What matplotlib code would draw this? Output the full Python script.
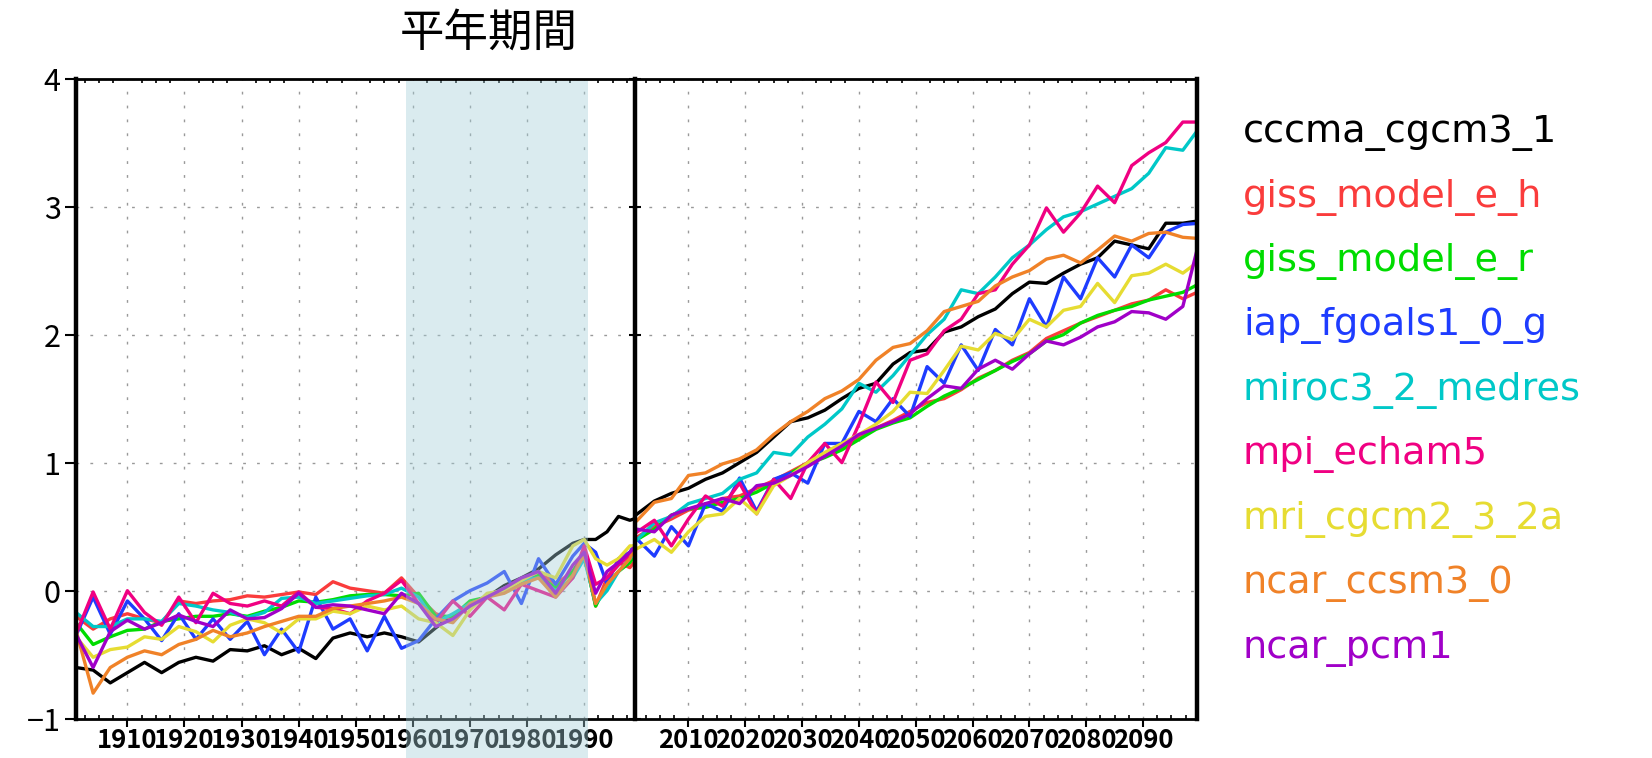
import matplotlib
matplotlib.use("Agg")
import matplotlib.pyplot as plt
import matplotlib.transforms as mtransforms
from matplotlib import font_manager
from matplotlib.patches import Rectangle
from matplotlib.ticker import MultipleLocator

# --- data ---
models = ["cccma_cgcm3_1", "giss_model_e_h", "giss_model_e_r", "iap_fgoals1_0_g",
          "miroc3_2_medres", "mpi_echam5", "mri_cgcm2_3_2a", "ncar_ccsm3_0", "ncar_pcm1"]
colors = ["#000000", "#fa3c3c", "#00dc00", "#1e3cff", "#00c8c8",
          "#f00082", "#e6dc32", "#f08228", "#a000c8"]

years_hist = [1901, 1904, 1907, 1910, 1913, 1916, 1919, 1922, 1925, 1928, 1931, 1934,
              1937, 1940, 1943, 1946, 1949, 1952, 1955, 1958, 1961, 1964, 1967, 1970,
              1973, 1976, 1979, 1982, 1985, 1988, 1990, 1992, 1994, 1996, 1998, 2000]
years_proj = list(range(2001, 2101, 3))

cccma_hist = [-0.60, -0.62, -0.72, -0.64, -0.56, -0.64, -0.56, -0.52, -0.55, -0.46,
              -0.47, -0.43, -0.50, -0.45, -0.53, -0.37, -0.33, -0.36, -0.33, -0.36,
              -0.40, -0.29, -0.19, -0.12, -0.05, 0.04, 0.10, 0.17, 0.28, 0.37,
              0.40, 0.40, 0.46, 0.58, 0.55, 0.58]
giss_h_hist = [-0.20, -0.30, -0.22, -0.18, -0.22, -0.25, -0.08, -0.10, -0.08, -0.07,
               -0.04, -0.05, -0.03, -0.01, -0.03, 0.07, 0.02, 0.00, -0.02, 0.10,
               -0.05, -0.18, -0.22, -0.12, -0.05, 0.02, 0.06, 0.15, 0.05, 0.15,
               0.30, -0.12, 0.10, 0.22, 0.18, 0.30]
giss_r_hist = [-0.25, -0.42, -0.36, -0.31, -0.30, -0.24, -0.22, -0.20, -0.20, -0.18,
               -0.20, -0.16, -0.13, -0.08, -0.09, -0.07, -0.04, -0.03, -0.03, -0.04,
               -0.02, -0.20, -0.20, -0.08, -0.05, 0.00, 0.05, 0.12, 0.02, 0.15,
               0.28, -0.12, 0.05, 0.15, 0.22, 0.35]
iap_hist = [-0.35, -0.05, -0.34, -0.08, -0.22, -0.39, -0.18, -0.38, -0.22, -0.38,
            -0.24, -0.50, -0.30, -0.48, -0.05, -0.30, -0.22, -0.47, -0.20, -0.45,
            -0.39, -0.22, -0.08, 0.00, 0.06, 0.15, -0.10, 0.25, 0.05, 0.27,
            0.37, 0.30, 0.05, 0.25, 0.30, 0.45]
miroc_hist = [-0.17, -0.28, -0.28, -0.22, -0.22, -0.24, -0.10, -0.12, -0.15, -0.17,
              -0.21, -0.17, -0.06, -0.05, -0.10, -0.08, -0.06, -0.04, -0.03, 0.02,
              -0.05, -0.25, -0.18, -0.10, -0.05, 0.02, 0.08, 0.10, 0.00, 0.10,
              0.25, -0.10, 0.00, 0.15, 0.25, 0.35]
mpi_hist = [-0.34, -0.01, -0.30, 0.00, -0.17, -0.27, -0.05, -0.25, -0.02, -0.10,
            -0.12, -0.08, -0.12, -0.01, -0.13, -0.14, -0.18, -0.08, -0.02, 0.08,
            -0.10, -0.25, -0.08, -0.20, -0.05, -0.15, 0.05, 0.00, -0.05, 0.10,
            0.35, 0.05, 0.10, 0.20, 0.28, 0.35]
mri_hist = [-0.36, -0.52, -0.46, -0.44, -0.36, -0.38, -0.28, -0.32, -0.40, -0.27,
            -0.22, -0.25, -0.33, -0.22, -0.22, -0.16, -0.18, -0.12, -0.15, -0.12,
            -0.22, -0.25, -0.35, -0.15, -0.02, 0.00, 0.08, 0.15, 0.10, 0.35,
            0.40, 0.25, 0.20, 0.25, 0.35, 0.35]
ccsm3_hist = [-0.31, -0.80, -0.60, -0.52, -0.47, -0.50, -0.42, -0.38, -0.31, -0.36,
              -0.33, -0.28, -0.24, -0.20, -0.20, -0.14, -0.12, -0.10, -0.08, -0.05,
              -0.10, -0.22, -0.25, -0.10, -0.05, -0.02, 0.05, 0.10, -0.05, 0.12,
              0.28, -0.10, 0.05, 0.15, 0.25, 0.45]
pcm_hist = [-0.34, -0.60, -0.32, -0.23, -0.30, -0.25, -0.19, -0.24, -0.28, -0.15,
            -0.22, -0.21, -0.14, -0.02, -0.13, -0.11, -0.12, -0.15, -0.18, -0.02,
            -0.10, -0.28, -0.22, -0.12, -0.05, 0.02, 0.10, 0.15, -0.02, 0.20,
            0.30, -0.02, 0.15, 0.22, 0.30, 0.40]

cccma_proj = [0.60, 0.70, 0.76, 0.80, 0.87, 0.92, 1.00, 1.08, 1.20, 1.32,
              1.35, 1.41, 1.50, 1.58, 1.62, 1.77, 1.86, 1.88, 2.02, 2.06,
              2.14, 2.20, 2.32, 2.41, 2.40, 2.48, 2.55, 2.60, 2.73, 2.70,
              2.67, 2.87, 2.87, 2.89]
giss_h_proj = [0.42, 0.50, 0.56, 0.63, 0.66, 0.72, 0.74, 0.80, 0.86, 0.93,
               1.00, 1.05, 1.12, 1.20, 1.27, 1.33, 1.40, 1.47, 1.50, 1.57,
               1.66, 1.72, 1.80, 1.86, 1.97, 2.03, 2.09, 2.14, 2.19, 2.24,
               2.27, 2.35, 2.28, 2.34]
giss_r_proj = [0.40, 0.48, 0.59, 0.64, 0.65, 0.69, 0.72, 0.77, 0.84, 0.92,
               0.99, 1.04, 1.10, 1.18, 1.26, 1.31, 1.35, 1.44, 1.52, 1.58,
               1.65, 1.72, 1.79, 1.85, 1.95, 2.00, 2.09, 2.15, 2.19, 2.22,
               2.27, 2.30, 2.33, 2.40]
iap_proj = [0.40, 0.27, 0.50, 0.35, 0.68, 0.62, 0.88, 0.62, 0.87, 0.92,
            0.84, 1.15, 1.15, 1.40, 1.32, 1.50, 1.36, 1.75, 1.62, 1.92,
            1.72, 2.04, 1.92, 2.28, 2.06, 2.45, 2.28, 2.60, 2.45, 2.70,
            2.60, 2.80, 2.86, 2.87]
miroc_proj = [0.40, 0.53, 0.58, 0.68, 0.72, 0.76, 0.87, 0.92, 1.08, 1.06,
              1.20, 1.30, 1.42, 1.62, 1.55, 1.68, 1.84, 2.00, 2.12, 2.35,
              2.32, 2.45, 2.60, 2.70, 2.82, 2.92, 2.96, 3.02, 3.08, 3.14,
              3.26, 3.46, 3.44, 3.62]
mpi_proj = [0.46, 0.55, 0.35, 0.56, 0.74, 0.66, 0.84, 0.60, 0.87, 0.72,
            1.00, 1.15, 1.00, 1.30, 1.63, 1.47, 1.80, 1.85, 2.03, 2.12,
            2.32, 2.35, 2.55, 2.70, 2.99, 2.80, 2.95, 3.16, 3.03, 3.32,
            3.42, 3.50, 3.66, 3.66]
mri_proj = [0.33, 0.40, 0.30, 0.46, 0.58, 0.60, 0.72, 0.60, 0.82, 0.90,
            1.00, 1.08, 1.15, 1.22, 1.30, 1.40, 1.55, 1.54, 1.72, 1.91,
            1.88, 2.01, 1.96, 2.12, 2.06, 2.19, 2.22, 2.40, 2.25, 2.46,
            2.48, 2.55, 2.48, 2.58]
ccsm3_proj = [0.55, 0.69, 0.72, 0.90, 0.92, 0.99, 1.03, 1.10, 1.22, 1.32,
              1.40, 1.50, 1.56, 1.65, 1.80, 1.90, 1.93, 2.03, 2.18, 2.22,
              2.26, 2.38, 2.45, 2.50, 2.59, 2.62, 2.56, 2.66, 2.77, 2.73,
              2.79, 2.80, 2.76, 2.75]
pcm_proj = [0.48, 0.46, 0.59, 0.64, 0.68, 0.72, 0.68, 0.82, 0.84, 0.90,
            0.97, 1.05, 1.13, 1.22, 1.27, 1.32, 1.38, 1.50, 1.60, 1.58,
            1.73, 1.80, 1.73, 1.85, 1.95, 1.92, 1.98, 2.06, 2.10, 2.18,
            2.17, 2.12, 2.22, 2.75]

hist = [cccma_hist, giss_h_hist, giss_r_hist, iap_hist, miroc_hist,
        mpi_hist, mri_hist, ccsm3_hist, pcm_hist]
proj = [cccma_proj, giss_h_proj, giss_r_proj, iap_proj, miroc_proj,
        mpi_proj, mri_proj, ccsm3_proj, pcm_proj]

hist_ticks = [1910, 1920, 1930, 1940, 1950, 1960, 1970, 1980, 1990]
proj_ticks = [2010, 2020, 2030, 2040, 2050, 2060, 2070, 2080, 2090]
y_ticks = [-1, 0, 1, 2, 3, 4]
y_labels = ["\u22121", "0", "1", "2", "3", "4"]
normal_period = (1958.8, 1990.6)

# --- fonts: a narrow face for the tick numbers if there is one ---
names = {f.name for f in font_manager.fontManager.ttflist}
if "Liberation Sans Narrow" in names:
    tick_font = ["Liberation Sans Narrow"]
    xsize, ysize = 21, 22
else:
    tick_font = ["Noto Sans CJK JP", "DejaVu Sans"]
    xsize, ysize = 18.5, 22

fig = plt.figure(figsize=(16.52, 7.58), dpi=100)
axl = fig.add_axes([0.0460, 0.0518, 0.3384, 0.8446])
axr = fig.add_axes([0.3844, 0.0518, 0.3402, 0.8446])

grid_style = dict(color="0.6", linestyle=(0, (2, 8)), linewidth=1.0)

for ax, yrs, data, ticks, xlim in [(axl, years_hist, hist, hist_ticks, (1901.0, 1998.9)),
                                    (axr, years_proj, proj, proj_ticks, (2000.6, 2099.5))]:
    for vals, c in zip(data, colors):
        ax.plot(yrs, vals, color=c, lw=2.4)
    ax.set_xlim(*xlim)
    ax.set_ylim(-1, 4)
    ax.set_xticks(ticks)
    ax.set_xticklabels([str(t) for t in ticks], fontsize=xsize, fontweight="bold",
                       family=tick_font)
    ax.xaxis.set_minor_locator(MultipleLocator(2.5))
    ax.tick_params(axis="x", which="major", direction="out", length=6, width=1.5, pad=0)
    ax.tick_params(axis="x", which="minor", direction="in", length=3, width=1.2,
                   top=True, bottom=True)
    ax.set_yticks(y_ticks)
    ax.grid(True, which="major", **grid_style)
    ax.set_axisbelow(True)
    for s in ["top", "bottom"]:
        ax.spines[s].set_linewidth(2.0)
    for s in ["left", "right"]:
        ax.spines[s].set_linewidth(3.2)

axl.spines["right"].set_visible(False)
axl.set_yticklabels(y_labels, fontsize=ysize, family=tick_font)
axl.tick_params(axis="y", direction="out", length=8, width=1.5, pad=3)
axr.tick_params(axis="y", direction="inout", length=8, width=1.5, labelleft=False)

# shaded normal period, spans down over the year labels
trans = mtransforms.blended_transform_factory(axl.transData, axl.transAxes)
axl.add_patch(Rectangle((normal_period[0], -0.07), normal_period[1] - normal_period[0], 1.066,
                        transform=trans, facecolor=(0.64, 0.81, 0.85), alpha=0.4,
                        linewidth=0, clip_on=False, zorder=10))

fig.text(489 / 1652, 1 - 33 / 758, "平年期間", ha="center", va="center", fontsize=32,
         family=["Noto Sans CJK JP", "DejaVu Sans"])

for i, (name, c) in enumerate(zip(models, colors)):
    fig.text(1243 / 1652, 1 - (142 + 64.5 * i) / 758, name, color=c, fontsize=27.5,
             ha="left", va="baseline")

fig.savefig("out.png", dpi=100)
